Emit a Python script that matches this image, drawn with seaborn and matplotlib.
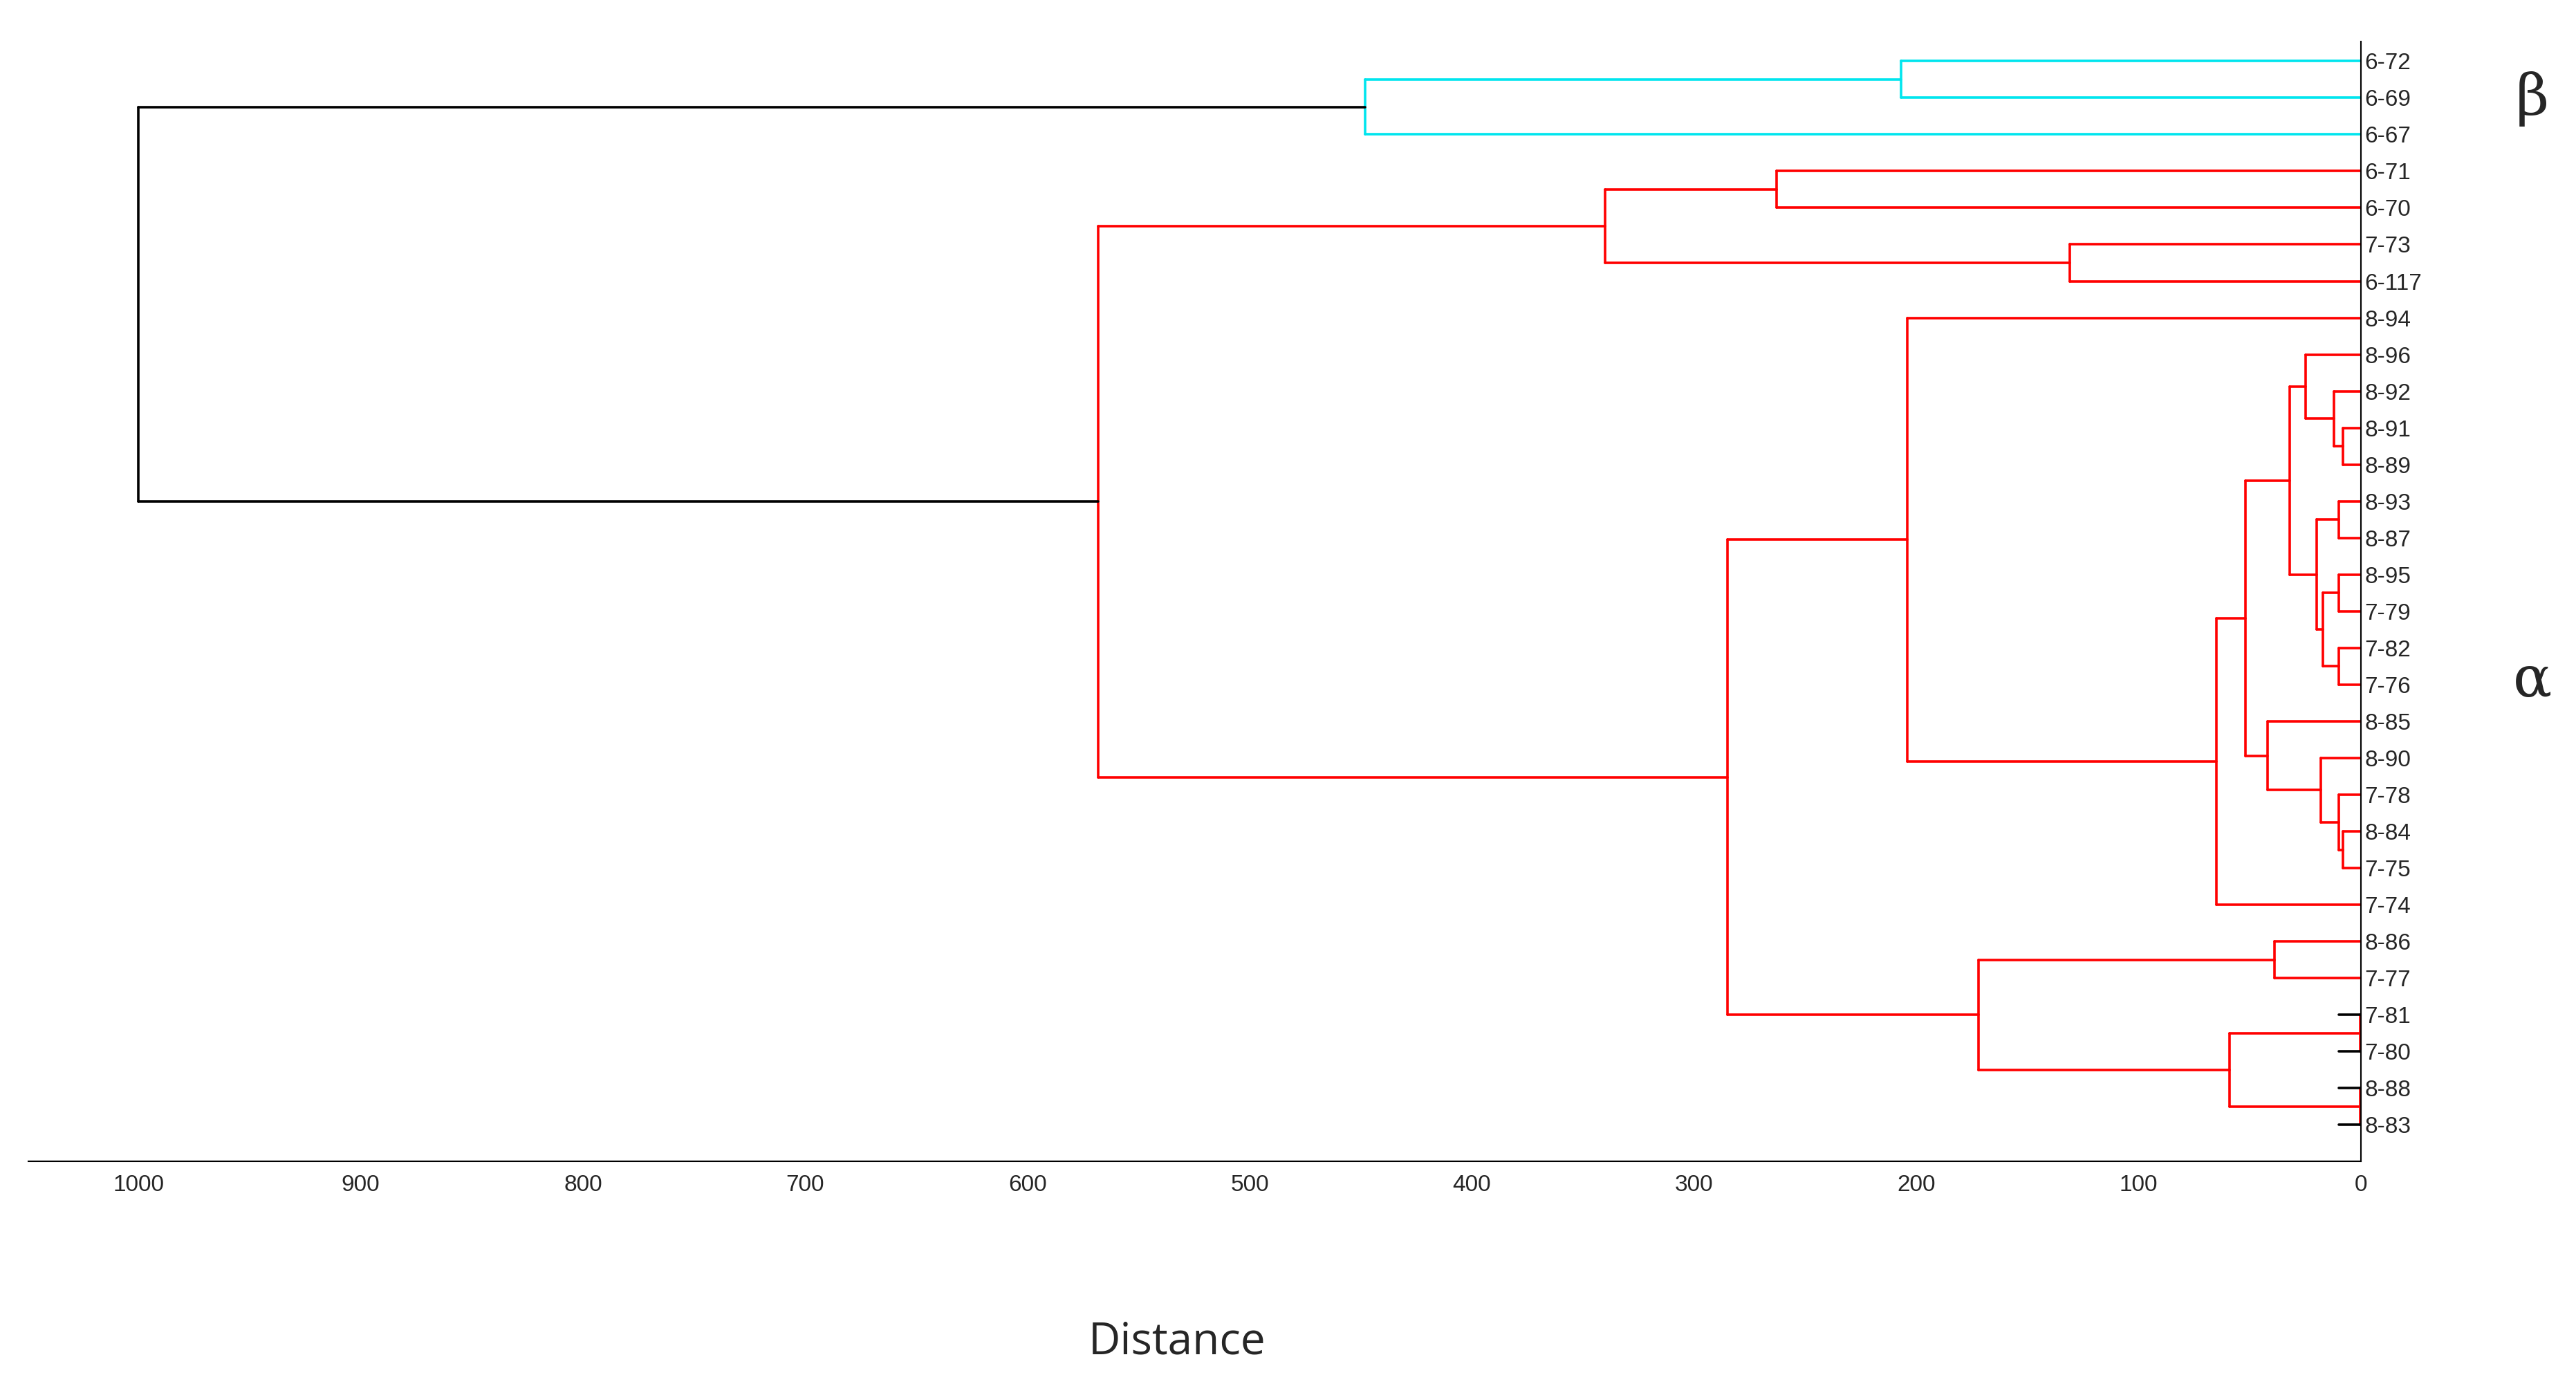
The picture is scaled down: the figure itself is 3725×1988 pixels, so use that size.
import matplotlib
matplotlib.use("Agg")
import matplotlib.pyplot as plt
import seaborn as sns
import pandas as pd

leaves = ["6-72","6-69","6-67","6-71","6-70","7-73","6-117","8-94","8-96","8-92","8-91","8-89",
          "8-93","8-87","8-95","7-79","7-82","7-76","8-85","8-90","7-78","8-84","7-75","7-74",
          "8-86","7-77","7-81","7-80","8-88","8-83"]
# merges: (name, left, right, height, colour)
merges = [
    ("A","6-72","6-69",207,"cyan"), ("B","A","6-67",448,"cyan"),
    ("C","6-71","6-70",263,"red"), ("D","7-73","6-117",131,"red"), ("E","C","D",340,"red"),
    ("F1","8-91","8-89",8,"red"), ("F2","8-92","F1",12,"red"), ("F","8-96","F2",25,"red"),
    ("G","8-93","8-87",10,"red"), ("H","8-95","7-79",10,"red"), ("I","7-82","7-76",10,"red"),
    ("J","H","I",17,"red"), ("K","G","J",20,"red"), ("L","F","K",32,"red"),
    ("M1","8-84","7-75",8,"red"), ("M2","7-78","M1",10,"red"), ("M","8-90","M2",18,"red"),
    ("N","8-85","M",42,"red"), ("O","L","N",52,"red"), ("P","O","7-74",65,"red"),
    ("Q","8-94","P",204,"red"), ("R","8-86","7-77",39,"red"),
    ("S","7-81","7-80",0.3,"red"), ("T","8-88","8-83",0.3,"red"), ("U","S","T",59,"red"),
    ("V","R","U",172,"red"), ("W","Q","V",285,"red"), ("X","E","W",568,"red"),
    ("Y","B","X",1000,"black"),
]
stub_leaves = ["7-81","7-80","8-88","8-83"]
stub_len = 10
ticks = list(range(0, 1001, 100))

pos = {l: (i, 0.0) for i, l in enumerate(leaves)}
rows = []
seg = 0
for name, a, b, h, c in merges:
    ya, ha = pos[a]; yb, hb = pos[b]
    for xs, ys in [((ha, h), (ya, ya)), ((h, h), (ya, yb)), ((hb, h), (yb, yb))]:
        for x, y in zip(xs, ys):
            rows.append(dict(seg=seg, x=x, y=y, c=c))
        seg += 1
    pos[name] = ((ya + yb) / 2, h)
for l in stub_leaves:
    y = pos[l][0]
    for x in (0, stub_len):
        rows.append(dict(seg=seg, x=x, y=y, c="black"))
    seg += 1
df = pd.DataFrame(rows)

sns.set_style("white")
plt.rcParams['font.family'] = ['Liberation Sans', 'DejaVu Sans']
fig = plt.figure(figsize=(37.25, 19.88), dpi=100)
ax = fig.add_axes([0.011, 0.1555, 0.9055, 0.8145])
sns.lineplot(data=df, x="x", y="y", units="seg", hue="c", estimator=None, sort=False,
             palette={"cyan": "#00e5ee", "red": "#ff0000", "black": "#000000"},
             legend=False, linewidth=2.6, ax=ax)
ax.set_xlim(1049.5, 0)
ax.set_ylim(29.99, -0.54)
ax.set_xticks(ticks)
ax.set_xticklabels([str(t) for t in ticks], fontsize=24)
ax.tick_params(axis="x", direction="out", length=8, width=1.5, pad=6)
ax.yaxis.tick_right()
ax.set_yticks(range(len(leaves)))
ax.set_yticklabels(leaves, fontsize=24)
ax.tick_params(axis="y", length=0, pad=4)
for s in ["top", "left"]:
    ax.spines[s].set_visible(False)
for s in ["bottom", "right"]:
    ax.spines[s].set_color("black"); ax.spines[s].set_linewidth(1.5)
ax.set_xlabel("")
ax.set_ylabel("")
fig.text(0.457, 0.008, "Distance", fontsize=46, ha="center", va="bottom",
         family=['Open Sans', 'DejaVu Sans'])
fig.text(0.983, 0.928, "β", fontsize=60, ha="center", va="center", family=['DejaVu Serif'])
fig.text(0.983, 0.505, "α", fontsize=60, ha="center", va="center", family=['DejaVu Serif'])
fig.savefig("out.png", dpi=100)
